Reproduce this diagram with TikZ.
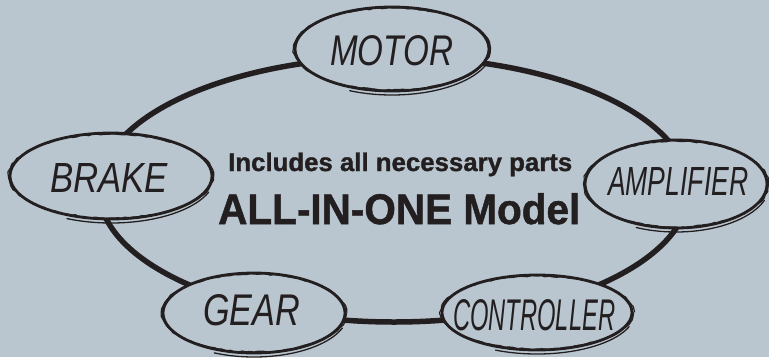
\documentclass[tikz,border=0pt]{standalone}
\usepackage{fontspec}
\setmainfont{Liberation Sans}
\newfontfamily\heavyfont{Liberation Sans}[FakeBold=1.2]
\usepackage{graphicx}
\usetikzlibrary{shapes.geometric,decorations.pathmorphing}
\definecolor{bgc}{HTML}{B9C6CF}
\definecolor{ink}{HTML}{231F20}
\tikzset{
  ring/.style={draw=ink, line width=5.5pt},
  bubble/.style={ellipse, draw=ink, fill=bgc, line width=2.8pt, inner sep=0pt, outer sep=0pt},
  rough/.style={draw=ink, line width=1.2pt, decorate, decoration={random steps, segment length=4pt, amplitude=0.7pt}},
  tail/.style={draw=ink, line width=1.3pt, line cap=round},
  lbl/.style={inner sep=0pt, anchor=base west, text=ink},
}
\newcommand{\mybubble}[5]{%
  \node[bubble, minimum width={2*#4pt}, minimum height={2*#5pt}] (#1) at (#2,#3) {};
  \pgfmathsetmacro\rxa{#4+1.5}\pgfmathsetmacro\rya{#5-1}%
  \draw[rough] (#2,#3) ellipse [x radius=\rxa, y radius=\rya];
  \pgfmathsetmacro\rxb{#4+3}\pgfmathsetmacro\ryb{#5+4}%
  \draw[tail] (#2,#3) ++(20:{\rxb} and {\ryb}) arc [start angle=20, end angle=115, x radius=\rxb, y radius=\ryb];
}
\begin{document}
\begin{tikzpicture}[x=1pt,y=-1pt]
  \fill[bgc] (0,0) rectangle (769,357);
  \useasboundingbox (0,0) rectangle (769,357);
  % ring
  \coordinate (ringc) at (394,189.5);
  \draw[ring] (ringc) ellipse [x radius=295, y radius=132.5];
  % bubbles
  \mybubble{motor}{392}{49}{97}{42}
  \mybubble{brake}{111}{176}{101}{43}
  \mybubble{amplifier}{676}{184}{91}{44}
  \mybubble{gear}{254}{313}{91}{40}
  \mybubble{controller}{537}{312.5}{95}{37.5}
  % labels
  \node[lbl] (motorL) at (330,65) {\resizebox{123pt}{30pt}{\itshape MOTOR}};
  \node[lbl] (brakeL) at (50,192) {\resizebox{118pt}{29pt}{\itshape BRAKE}};
  \node[lbl] (amplifierL) at (608,195) {\resizebox{140pt}{28pt}{\itshape AMPLIFIER}};
  \node[lbl] (gearL) at (203,325) {\resizebox{97pt}{31pt}{\itshape GEAR}};
  \node[lbl] (controllerL) at (453,330) {\resizebox{162pt}{31pt}{\itshape CONTROLLER}};
  % centre text
  \node[lbl] (incl) at (228,171) {\resizebox{344pt}{18.5pt}{\heavyfont\bfseries Includes all necessary parts}};
  \node[lbl] (allinone) at (218,224) {\resizebox{362pt}{31pt}{\heavyfont\bfseries ALL-IN-ONE Model}};
\end{tikzpicture}
\end{document}
